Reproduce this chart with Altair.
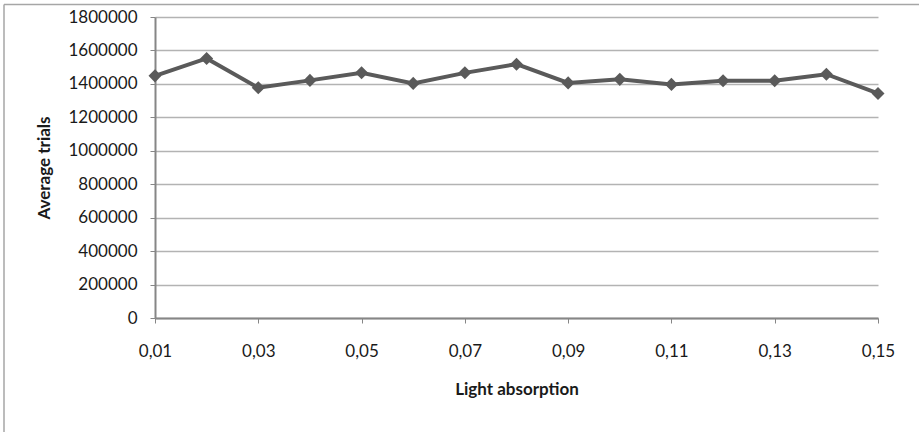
import altair as alt
import pandas as pd

absorption = [0.01, 0.02, 0.03, 0.04, 0.05, 0.06, 0.07, 0.08, 0.09, 0.10, 0.11, 0.12, 0.13, 0.14, 0.15]
trials = [1448000, 1552000, 1377000, 1421000, 1466000, 1403000, 1466000, 1518000,
          1406000, 1427000, 1397000, 1419000, 1419000, 1458000, 1343000]
x_ticks = [0.01, 0.03, 0.05, 0.07, 0.09, 0.11, 0.13, 0.15]
y_ticks = [0, 200000, 400000, 600000, 800000, 1000000, 1200000, 1400000, 1600000, 1800000]

df = pd.DataFrame({"absorption": absorption, "trials": trials})

FONT = "Lato"
LINE = "#5a5a5a"

x_enc = alt.X(
    "absorption:Q",
    scale=alt.Scale(domain=[0.01, 0.15], nice=False, zero=False),
    axis=alt.Axis(
        values=x_ticks,
        labelExpr="replace(format(datum.value, '.2f'), '.', ',')",
        title="Light absorption",
        grid=False,
        domainColor="#868686",
        domainWidth=2,
        tickColor="#868686",
        tickSize=5,
        labelPadding=20,
        labelFlush=False,
        labelOverlap=False,
        labelFont=FONT,
        labelFontSize=17,
        labelColor="#1a1a1a",
        titleFont=FONT,
        titleFontSize=17,
        titleFontWeight="bold",
        titleColor="#1a1a1a",
        titlePadding=22,
    ),
)
y_enc = alt.Y(
    "trials:Q",
    scale=alt.Scale(domain=[0, 1800000], nice=False),
    axis=alt.Axis(
        values=y_ticks,
        tickCount=10,
        format="d",
        title="Average trials",
        grid=True,
        gridColor="#b3b3b3",
        gridWidth=1.5,
        domainColor="#868686",
        domainWidth=2,
        tickColor="#868686",
        tickSize=5,
        labelPadding=13,
        labelOverlap=False,
        labelFlush=False,
        labelFont=FONT,
        labelFontSize=17,
        labelColor="#1a1a1a",
        titleFont=FONT,
        titleFontSize=17,
        titleFontWeight="bold",
        titleColor="#1a1a1a",
        titlePadding=14,
    ),
)

base = alt.Chart(df).encode(x=x_enc, y=y_enc)
line = base.mark_line(color=LINE, strokeWidth=4)
pts = base.mark_point(shape="diamond", filled=True, color=LINE, size=170, opacity=1)

border_top = alt.Chart(df.head(1)).mark_rule(color="#a6a6a6", strokeWidth=1.5).encode(
    x=alt.value(-151), x2=alt.value(800), y=alt.value(-12.5), y2=alt.value(-12.5)
)
border_left = alt.Chart(df.head(1)).mark_rule(color="#a6a6a6", strokeWidth=1.5).encode(
    x=alt.value(-151), x2=alt.value(-151), y=alt.value(-12.5), y2=alt.value(440)
)

chart = (
    alt.layer(line, pts, border_top, border_left)
    .properties(
        width=723,
        height=301,
        autosize=alt.AutoSizeParams(type="none"),
        padding={"left": 155, "top": 17, "right": 41, "bottom": 114},
        background="white",
    )
    .configure_view(stroke=None)
)

chart.save("out.html", embed_options={"renderer": "svg", "actions": False})
